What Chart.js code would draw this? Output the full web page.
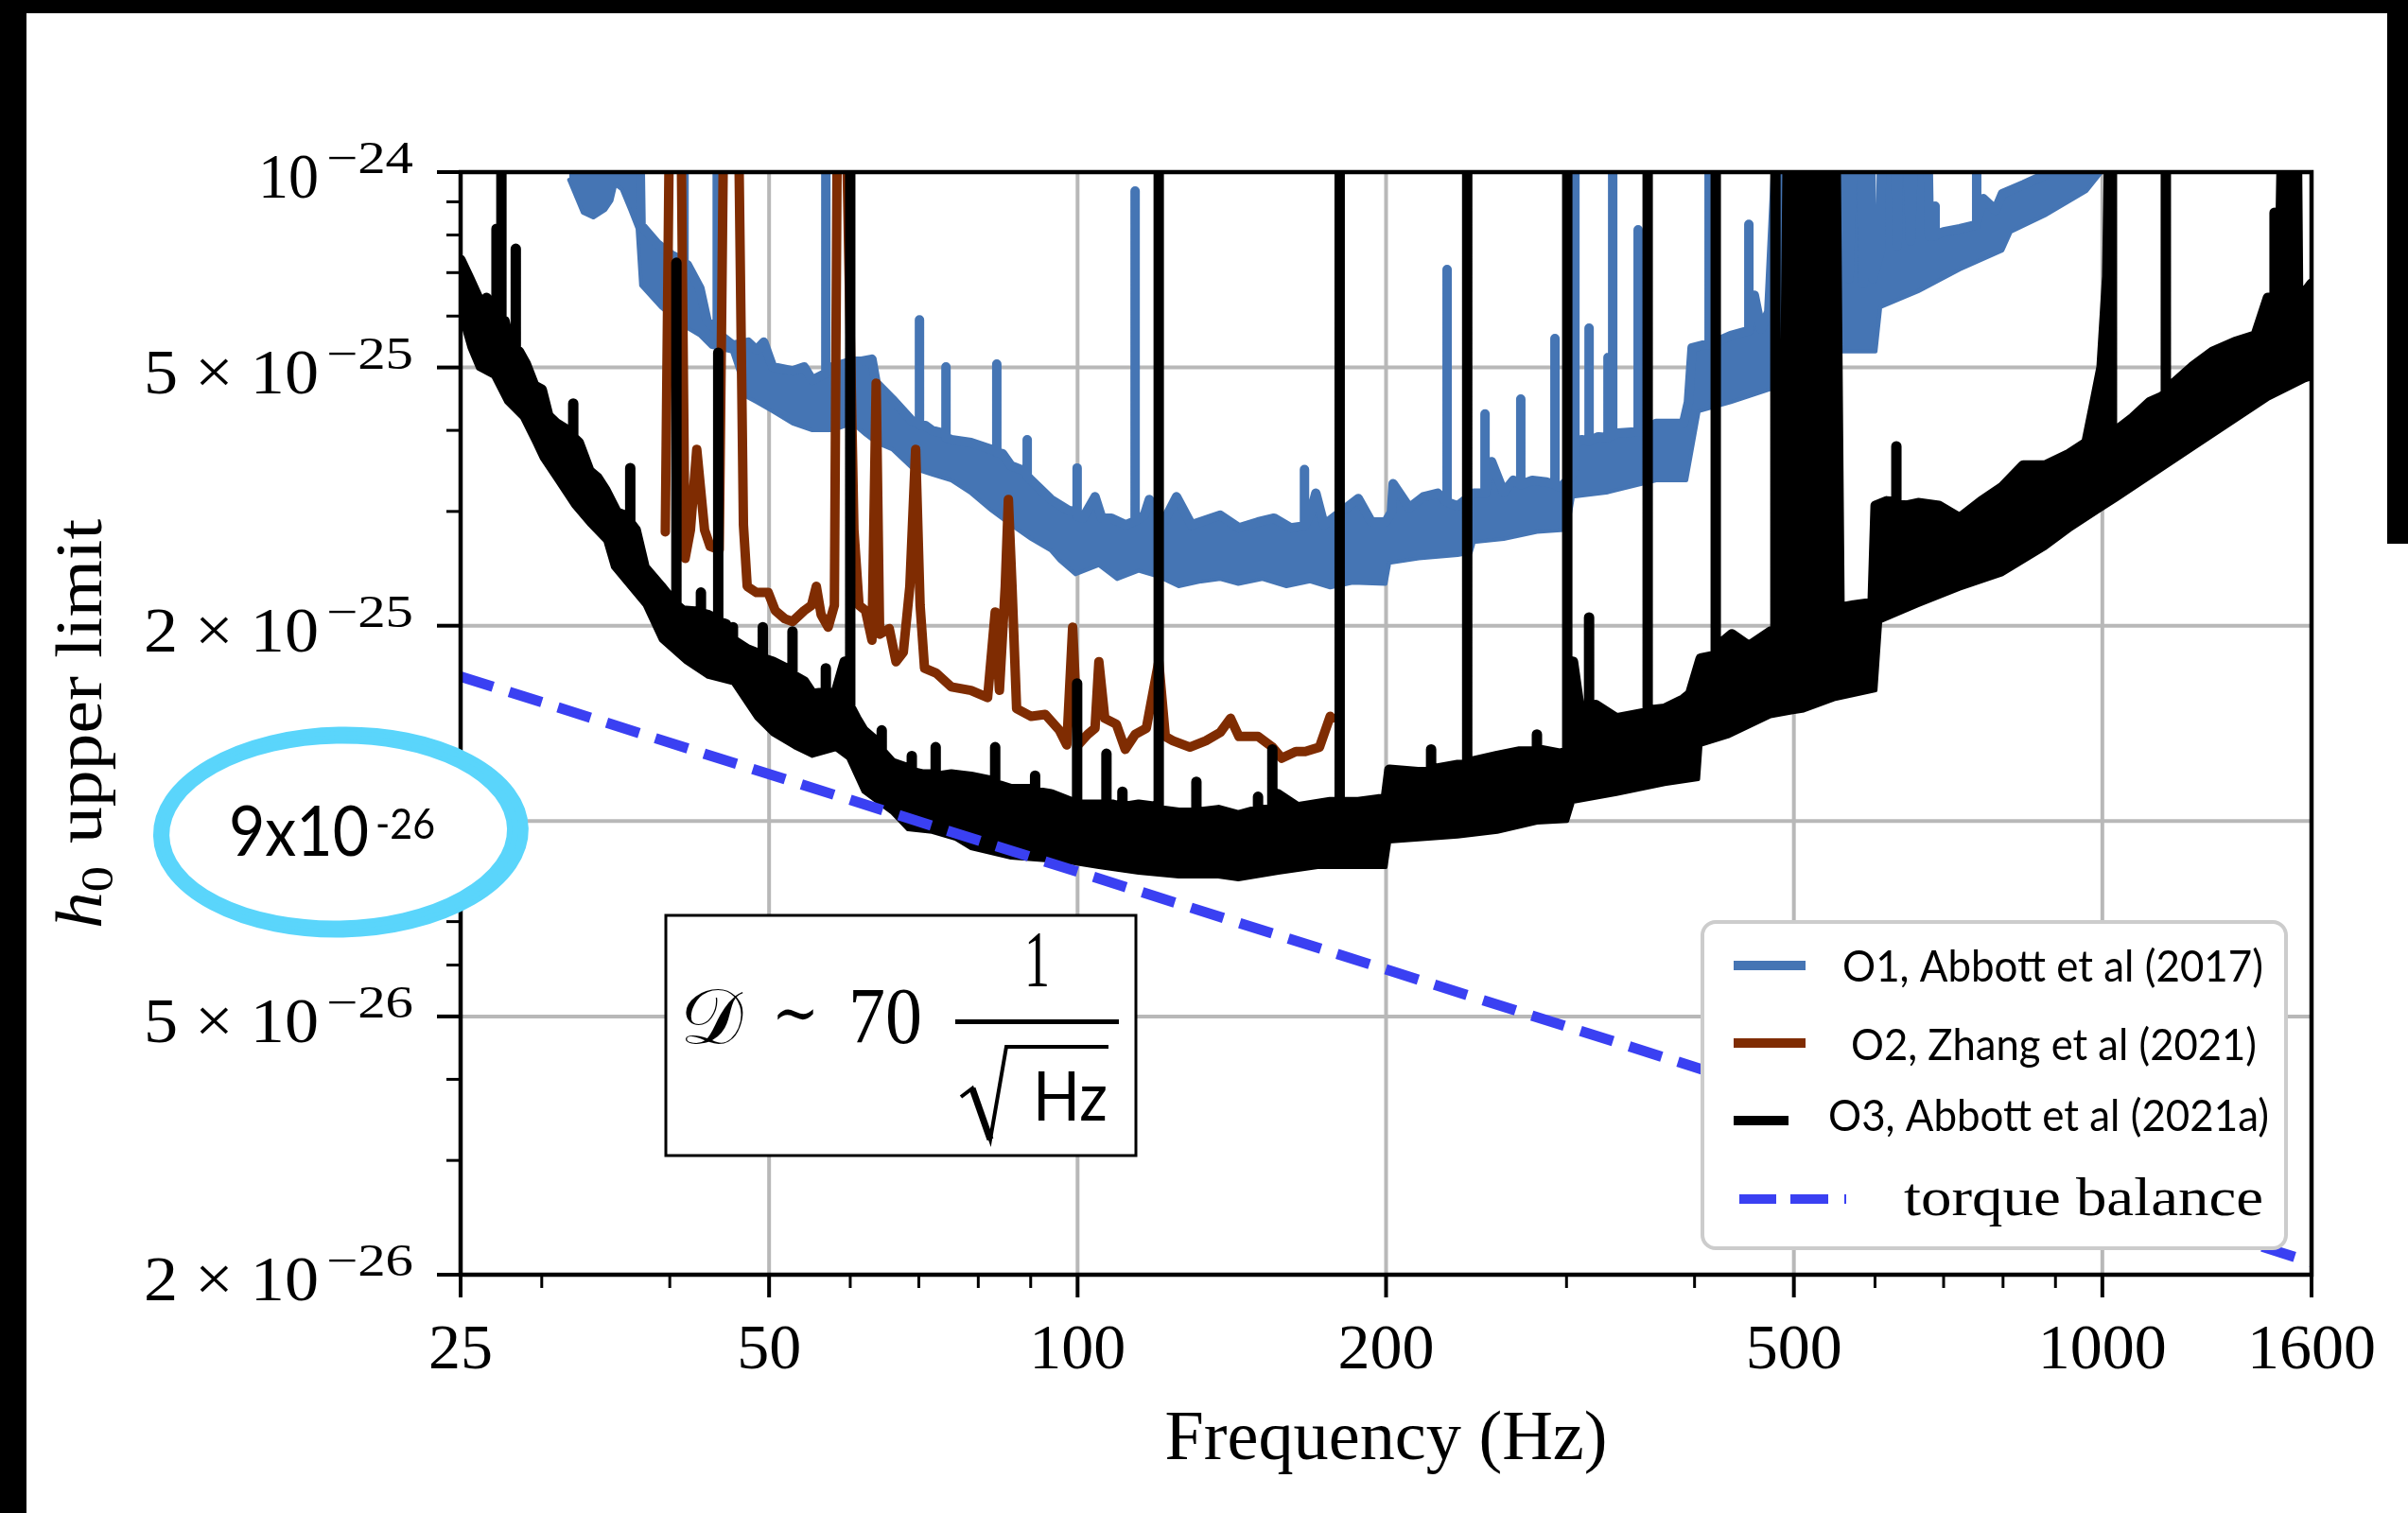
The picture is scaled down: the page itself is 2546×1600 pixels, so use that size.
<!DOCTYPE html>
<html><head><meta charset="utf-8">
<script src="https://cdn.jsdelivr.net/npm/chart.js@4.4.1/dist/chart.umd.min.js"></script>
<style>html,body{margin:0;padding:0;background:#fff;}canvas{display:block;}</style>
</head><body>
<canvas id="c" width="2546" height="1600" style="width:2546px;height:1600px"></canvas>
<script>
// ---------- DATA (frequency in Hz, h0 upper limit) ----------
const xMajorTicks = [25, 50, 100, 200, 500, 1000, 1600];
const xTickLabels = ['25', '50', '100', '200', '500', '1000', '1600'];
const xMinorTicks = [30, 40, 60, 70, 80, 90, 300, 400, 600, 700, 800, 900];
const xGridValues = [50, 100, 200, 500, 1000];
const yMajorTicks = [1e-24, 5e-25, 2e-25, 1e-25, 5e-26, 2e-26];
const yTickMantissa = ['', '5', '2', '', '5', '2'];
const yTickExponent = ['−24', '−25', '−25', '−25', '−26', '−26'];
const yMinorTicks = [3e-26, 4e-26, 6e-26, 7e-26, 8e-26, 9e-26, 3e-25, 4e-25, 6e-25, 7e-25, 8e-25, 9e-25];
const yGridValues = [5e-26, 1e-25, 2e-25, 5e-25];

// O1 (Abbott et al 2017): upper and lower edge of the band
const o1Upper = [
[31.9,2e-24],[37.2,2e-24],[37.5,8.29e-25],[38.9,7.75e-25],[40.2,7.44e-25],
[41.3,7.3e-25],[41.3,2e-24],[41.3,7.25e-25],
[41.6,7.20e-25],[42.8,6.62e-25],[43.5,5.89e-25],
[44.5,5.7e-25],[44.5,2e-24],[44.5,5.6e-25],
[44.85,5.60e-25],[46.1,5.41e-25],[47.7,5.47e-25],[48.6,5.32e-25],[49.4,5.47e-25],[50.4,5.01e-25],[52.7,4.94e-25],[54.1,5.01e-25],[55.1,4.78e-25],
[56.8,4.9e-25],[56.8,2e-24],[56.8,4.95e-25],
[57.6,5.01e-25],[60.3,5.11e-25],[61.4,5.11e-25],[63.0,5.15e-25],[63.6,4.73e-25],[65.9,4.47e-25],[68.9,4.14e-25],
[70.1,4.1e-25],[70.1,5.92e-25],[70.1,4.08e-25],
[71.0,4.07e-25],[72.1,4.00e-25],
[74.4,3.95e-25],[74.4,5.01e-25],[74.4,3.9e-25],
[75.3,3.87e-25],[78.7,3.83e-25],[82.4,3.74e-25],
[83.4,3.72e-25],[83.4,5.06e-25],[83.4,3.7e-25],
[84.5,3.68e-25],[86.1,3.53e-25],
[89.3,3.45e-25],[89.3,3.87e-25],[89.3,3.4e-25],
[90.1,3.35e-25],[94.2,3.13e-25],[98.0,3.01e-25],
[99.9,3.0e-25],[99.9,3.50e-25],[99.9,2.95e-25],
[101.2,2.93e-25],[104.0,3.16e-25],[105.6,2.93e-25],[107.9,2.93e-25],[111.4,2.86e-25],
[113.8,2.9e-25],[113.8,9.35e-25],[113.8,2.9e-25],
[116.2,2.96e-25],[117.5,3.13e-25],[121.3,2.89e-25],[124.9,3.16e-25],[129.2,2.86e-25],[137.8,2.96e-25],[143.7,2.83e-25],[150.0,2.89e-25],[155.5,2.93e-25],[161.5,2.83e-25],
[166.5,2.85e-25],[166.5,3.48e-25],[166.5,2.85e-25],
[168.6,2.96e-25],[170.8,3.20e-25],[174.0,2.86e-25],[187.9,3.14e-25],[193.5,2.89e-25],[199.8,2.89e-25],[202.4,2.99e-25],[203.2,3.31e-25],[210.7,3.04e-25],[217.5,3.16e-25],[224.6,3.20e-25],
[229.4,3.1e-25],[229.4,7.08e-25],[229.4,3.1e-25],
[234.9,3.06e-25],[243.6,3.20e-25],
[249.8,3.2e-25],[249.8,4.24e-25],[249.8,3.2e-25],
[253.5,3.58e-25],[260.5,3.21e-25],[266.2,3.35e-25],
[270.7,3.3e-25],[270.7,4.47e-25],[270.7,3.3e-25],
[277.8,3.35e-25],[286.8,3.33e-25],
[292.3,3.3e-25],[292.3,5.54e-25],[292.3,3.3e-25],
[296.0,3.27e-25],[302.5,3.38e-25],
[305.7,3.5e-25],[305.7,2e-24],[305.7,3.8e-25],
[310.3,3.87e-25],
[315.6,3.85e-25],[315.6,5.75e-25],[315.6,3.85e-25],
[322.3,3.91e-25],
[329.3,3.9e-25],[329.3,5.18e-25],[329.3,3.92e-25],
[332.8,3.93e-25],[332.8,2e-24],[332.8,3.95e-25],
[336.3,3.96e-25],
[352.4,3.98e-25],[352.4,8.15e-25],[352.4,3.98e-25],
[358.3,4.00e-25],[366.9,4.10e-25],[390.2,4.10e-25],[394.5,4.42e-25],[397.8,5.36e-25],[407,5.41e-25],
[413.3,5.42e-25],[413.3,2e-24],[413.3,5.44e-25],
[419.5,5.47e-25],[434,5.60e-25],
[451.9,5.7e-25],[451.9,8.31e-25],[451.9,5.7e-25],
[457.5,6.46e-25],[464.5,5.73e-25],[472.6,6.09e-25],[490,2e-24],[547.3,2e-24],[550.5,6.85e-25],[554,2e-24],[559.7,2e-24],[565.8,6.85e-25],[578,2e-24],[584.3,6.73e-25],[590,2e-24],[597,6.85e-25],[607.2,7.57e-25],[612.3,2e-24],[624,2e-24],[630.7,7.70e-25],[636,2e-24],[649.8,7.83e-25],[663.8,2e-24],[671.5,2e-24],[678,7.96e-25],
[686.8,7.98e-25],[686.8,8.86e-25],[686.8,8.0e-25],
[700,8.09e-25],[725.9,8.18e-25],
[754,8.3e-25],[754,2e-24],[754,8.4e-25],
[765.4,9.10e-25],[786.7,8.74e-25],[798.8,9.26e-25],[838.6,9.57e-25],[878.7,9.90e-25],[903.6,1.04e-24],[1037,1.11e-24]
];
const o1Lower = [
[31.9,9.73e-25],[32.9,8.66e-25],[33.7,8.51e-25],[34.6,8.74e-25],[35.1,9.04e-25],[35.4,9.57e-25],[35.9,9.41e-25],[36.6,8.74e-25],[37.2,8.18e-25],[37.5,6.69e-25],[39.2,6.19e-25],[41.3,5.79e-25],[42.8,5.60e-25],[43.9,5.38e-25],[46.0,5.29e-25],[47.6,4.50e-25],[48.6,4.42e-25],[50.4,4.28e-25],[52.7,4.10e-25],[55.1,4.00e-25],[57.6,4.00e-25],[60.3,4.10e-25],[62.1,3.94e-25],[63.6,3.83e-25],[65.9,3.74e-25],[68.9,3.50e-25],[72.1,3.42e-25],[75.3,3.35e-25],[78.7,3.20e-25],[82.4,3.01e-25],[86.1,2.86e-25],[90.1,2.72e-25],[94.2,2.61e-25],[96.0,2.52e-25],[99.5,2.40e-25],[104.9,2.48e-25],[109.3,2.36e-25],[114.7,2.43e-25],[120.0,2.38e-25],[125.5,2.30e-25],[132.0,2.34e-25],[137.8,2.36e-25],[143.5,2.32e-25],[151.5,2.36e-25],[159.9,2.30e-25],[168.6,2.34e-25],[176.4,2.29e-25],[185.5,2.33e-25],[199.8,2.32e-25],[201.5,2.50e-25],[215.3,2.54e-25],[234.9,2.57e-25],[241.9,2.59e-25],[243.6,2.69e-25],[260.5,2.72e-25],[280.7,2.79e-25],[300.5,2.81e-25],[304.4,3.16e-25],[329.3,3.21e-25],[366.9,3.35e-25],[392.7,3.35e-25],[403.8,4.28e-25],[434,4.42e-25],[472.6,4.62e-25],[547.3,5.29e-25],[600.8,5.29e-25],[607.2,6.19e-25],[661,6.55e-25],[725.9,7.08e-25],[798.8,7.57e-25],[814,8.09e-25],[878.7,8.57e-25],[964.9,9.35e-25],[998.3,1.00e-24],[1037,1.04e-24]
];

// O2 (Zhang et al 2021)
const o2Line = [
[39.6,2.79e-25],[40.1,2e-24],[40.9,2e-24],[41.4,2.54e-25],[41.9,2.81e-25],[42.5,3.74e-25],[43.25,2.81e-25],[43.8,2.65e-25],[44.7,2.62e-25],[45.3,2e-24],[46.5,2e-24],[47.2,2.86e-25],[47.6,2.30e-25],[48.6,2.25e-25],[49.9,2.25e-25],[50.7,2.11e-25],[51.8,2.05e-25],[52.7,2.03e-25],[54.1,2.11e-25],[55.0,2.15e-25],[55.6,2.30e-25],[56.2,2.08e-25],[57.1,1.99e-25],[57.9,2.15e-25],[58.4,2e-24],[59.1,2e-24],[60.5,2.81e-25],[61.2,2.15e-25],[62.1,2.11e-25],[63.0,1.90e-25],[63.6,4.73e-25],[64.1,1.94e-25],[65.5,1.98e-25],[66.5,1.76e-25],[67.6,1.82e-25],[68.6,2.30e-25],[69.5,3.74e-25],[70.2,2.15e-25],[70.9,1.72e-25],[72.8,1.69e-25],[75.3,1.61e-25],[78.7,1.59e-25],[81.7,1.55e-25],[83.1,2.10e-25],[83.9,1.59e-25],[85.0,2.30e-25],[85.6,3.13e-25],[86.3,2.30e-25],[87.2,1.49e-25],[90.1,1.45e-25],[93.0,1.46e-25],[96.0,1.38e-25],[97.6,1.31e-25],[98.9,1.99e-25],[100.1,1.31e-25],[102.3,1.36e-25],[104.0,1.39e-25],[104.9,1.76e-25],[106.3,1.44e-25],[109.1,1.41e-25],[111.3,1.29e-25],[113.8,1.36e-25],[116.7,1.39e-25],[120.0,1.76e-25],[121.8,1.35e-25],[123.9,1.33e-25],[128.7,1.30e-25],[133.4,1.33e-25],[137.8,1.37e-25],[141.0,1.44e-25],[143.7,1.35e-25],[150.0,1.35e-25],[154.9,1.30e-25],[158.2,1.25e-25],[163.3,1.28e-25],[166.8,1.28e-25],[172.2,1.30e-25],[176.4,1.45e-25],[177.1,1.44e-25]
];

// O3 (Abbott et al 2021a): upper and lower edge of the band
const o3Upper = [
[25.0,7.32e-25],[25.5,6.85e-25],[26.0,6.40e-25],[26.2,5.98e-25],[26.5,6.40e-25],[26.7,5.79e-25],[26.9,6.25e-25],
[27.1,6.1e-25],[27.1,8.18e-25],[27.1,6.0e-25],
[27.2,5.98e-25],
[27.4,5.9e-25],[27.4,2e-24],[27.4,5.9e-25],
[27.6,5.89e-25],[27.9,5.41e-25],
[28.3,5.3e-25],[28.3,7.62e-25],[28.3,5.3e-25],
[28.5,5.29e-25],[28.95,5.06e-25],[29.5,4.69e-25],[30.0,4.62e-25],[30.45,4.21e-25],[31.0,4.10e-25],[31.8,4.00e-25],
[32.2,3.95e-25],[32.2,4.4e-25],[32.2,3.9e-25],
[32.6,3.83e-25],[33.4,3.46e-25],[34.0,3.38e-25],[34.6,3.24e-25],[35.5,2.99e-25],[36.1,2.96e-25],
[36.6,2.9e-25],[36.6,3.50e-25],[36.6,2.88e-25],
[37.05,2.81e-25],[37.8,2.46e-25],[39.2,2.30e-25],[40.2,2.19e-25],
[40.6,2.15e-25],[40.6,7.25e-25],[40.6,2.15e-25],
[41.2,2.11e-25],
[42.9,2.1e-25],[42.9,2.25e-25],[42.9,2.09e-25],
[43.5,2.08e-25],
[44.6,2.04e-25],[44.6,5.27e-25],[44.6,2.03e-25],
[45.4,2.01e-25],[46.1,1.92e-25],[46.1,1.99e-25],[46.1,1.9e-25],[47.6,1.84e-25],
[49.3,1.8e-25],[49.3,1.99e-25],[49.3,1.78e-25],
[50.4,1.76e-25],
[52.7,1.7e-25],[52.7,1.96e-25],[52.7,1.68e-25],
[54.1,1.64e-25],[55.1,1.57e-25],
[56.8,1.58e-25],[56.8,1.72e-25],[56.8,1.57e-25],
[58.1,1.58e-25],[59.25,1.76e-25],
[60.0,1.7e-25],[60.0,2e-24],[60.0,1.5e-25],
[60.8,1.44e-25],[61.8,1.38e-25],[63.5,1.33e-25],
[64.4,1.3e-25],[64.4,1.38e-25],[64.4,1.28e-25],
[65.9,1.23e-25],[68.9,1.2e-25],[68.9,1.26e-25],[68.9,1.19e-25],[70.5,1.18e-25],
[72.7,1.18e-25],[72.7,1.30e-25],[72.7,1.17e-25],
[75.3,1.18e-25],[78.7,1.17e-25],
[83.1,1.15e-25],[83.1,1.30e-25],[83.1,1.14e-25],
[86.1,1.12e-25],[90.9,1.12e-25],[90.9,1.175e-25],[90.9,1.11e-25],[94.2,1.10e-25],[98.5,1.07e-25],
[99.9,1.07e-25],[99.9,1.63e-25],[99.9,1.06e-25],
[101.2,1.06e-25],
[106.7,1.06e-25],[106.7,1.27e-25],[106.7,1.06e-25],
[108.1,1.06e-25],[110.6,1.05e-25],[110.6,1.11e-25],[110.6,1.05e-25],[114.7,1.06e-25],
[120.0,1.05e-25],[120.0,2e-24],[120.0,1.04e-25],
[125.5,1.03e-25],
[130.6,1.03e-25],[130.6,1.15e-25],[130.6,1.03e-25],
[137.2,1.04e-25],[143.5,1.02e-25],[150.0,1.04e-25],[150.0,1.09e-25],[150.0,1.04e-25],
[154.9,1.04e-25],[154.9,1.29e-25],[154.9,1.05e-25],
[156.8,1.1e-25],[164.0,1.05e-25],[176.4,1.07e-25],
[180.2,1.07e-25],[180.2,2e-24],[180.2,1.07e-25],
[187.9,1.07e-25],[196.4,1.08e-25],[199.8,1.08e-25],[201.5,1.2e-25],[214.8,1.19e-25],
[221.3,1.19e-25],[221.3,1.29e-25],[221.3,1.2e-25],
[234.9,1.22e-25],
[240.0,1.22e-25],[240.0,2e-24],[240.0,1.23e-25],
[256.8,1.26e-25],[270,1.28e-25],[280.7,1.28e-25],[280.7,1.36e-25],[280.7,1.29e-25],[296.0,1.27e-25],
[300.5,1.28e-25],[300.5,2e-24],[300.5,1.6e-25],
[304.4,1.76e-25],[309,1.49e-25],
[315.6,1.5e-25],[315.6,2.06e-25],[315.6,1.5e-25],
[320.2,1.51e-25],[335.6,1.44e-25],
[360.0,1.47e-25],[360.0,2e-24],[360.0,1.48e-25],
[374.0,1.49e-25],[390.2,1.54e-25],[396.1,1.57e-25],[405.5,1.78e-25],
[419.5,1.8e-25],[419.5,2e-24],[419.5,1.85e-25],
[435.0,1.94e-25],[451.9,1.86e-25],[474.6,1.96e-25],
[479.7,1.96e-25],[479.7,2e-24],[479.7,1.97e-25],
[487.8,1.99e-25],[495.2,2e-24],[517.8,2e-24],[519.9,4.50e-25],[523.2,2e-24],[547.3,2e-24],
[554,2.13e-25],[572,2.15e-25],[596.8,2.17e-25],[600.8,3.06e-25],[616,3.11e-25],
[629.5,3.1e-25],[629.5,3.78e-25],[629.5,3.08e-25],
[643,3.06e-25],[661.0,3.09e-25],[692.7,3.06e-25],[725.9,2.93e-25],[762,3.11e-25],[798.8,3.27e-25],[836.9,3.53e-25],[878.7,3.53e-25],[928.7,3.68e-25],[964.9,3.83e-25],[985,4.50e-25],[998.3,5.01e-25],[1011,6.91e-25],
[1021.8,2e-24],[1021.8,4.0e-25],
[1032.8,4.00e-25],[1070.6,4.18e-25],[1112.5,4.42e-25],[1141,4.50e-25],
[1153.3,4.55e-25],[1153.3,2e-24],[1153.3,4.6e-25],
[1168.2,4.69e-25],[1224.0,5.01e-25],[1282.5,5.29e-25],[1346.6,5.47e-25],[1411.0,5.60e-25],[1450.6,6.40e-25],
[1472.5,6.4e-25],[1472.5,8.66e-25],[1472.5,6.5e-25],
[1489,6.73e-25],[1507.3,2e-24],[1543.2,2e-24],[1553.0,6.04e-25],[1579.6,6.55e-25],[1600,6.73e-25]
];
const o3Lower = [
[25.0,5.98e-25],[25.5,5.36e-25],[26.0,4.98e-25],[26.9,4.84e-25],[27.7,4.42e-25],[28.7,4.18e-25],[29.5,3.83e-25],[30.0,3.62e-25],[31.0,3.35e-25],[32.2,3.06e-25],[33.4,2.86e-25],[34.6,2.70e-25],[35.2,2.46e-25],[37.8,2.15e-25],[39.2,1.90e-25],[41.4,1.76e-25],[43.5,1.67e-25],[46.1,1.63e-25],[48.6,1.44e-25],[50.4,1.36e-25],[52.9,1.30e-25],[55.1,1.26e-25],[58.1,1.29e-25],[59.7,1.25e-25],[61.8,1.11e-25],[65.9,1.03e-25],[68.3,9.71e-26],[72.1,9.62e-26],[76.0,9.39e-26],[78.7,9.08e-26],[86.1,8.78e-26],[94.2,8.69e-26],[99.5,8.61e-26],[104.9,8.49e-26],[114.7,8.32e-26],[125.5,8.21e-26],[137.2,8.21e-26],[143.5,8.13e-26],[157,8.32e-26],[171.5,8.49e-26],[189.5,8.49e-26],[199.8,8.49e-26],[201.5,9.30e-26],[234.9,9.46e-26],[256.8,9.62e-26],[280.7,9.94e-26],[300.5,1.00e-25],[304.4,1.07e-25],[335.6,1.10e-25],[374.0,1.14e-25],[403.3,1.16e-25],[405.5,1.31e-25],[431.3,1.35e-25],[474.6,1.45e-25],[497.3,1.47e-25],[511.3,1.48e-25],[547.3,1.54e-25],[600.8,1.59e-25],[607.2,2.03e-25],[661.0,2.15e-25],[725.9,2.28e-25],[798.8,2.40e-25],[878.7,2.63e-25],[930,2.81e-25],[994.0,3.01e-25],[1032.8,3.13e-25],[1224.0,3.74e-25],[1450.6,4.47e-25],[1579.6,4.78e-25],[1600,4.81e-25]
];

// torque balance: h0 ~ f^-1/2
const torqueBalance = [[25, 1.67e-25], [1600, 2.09e-26]];

// ---------- STYLE ----------
const C_O1 = '#4575b4', C_O2 = '#7f2c02', C_O3 = '#000000', C_TQ = '#3a40f2';
const GRID = '#b8b8b8';
const SERIF = '"Liberation Serif", "Times New Roman", serif';
const SANS = 'Lato, "Open Sans", sans-serif';

const toXY = a => a.map(p => ({x: p[0], y: p[1]}));

function fitText(ctx, text, x, y, width, size, font, align, baseline) {
  ctx.save();
  ctx.font = size + 'px ' + font;
  ctx.textBaseline = baseline || 'alphabetic';
  const w = ctx.measureText(text).width;
  const s = width / w;
  ctx.translate(x, y);
  ctx.scale(s, 1);
  ctx.textAlign = 'left';
  const x0 = align === 'center' ? -w / 2 : (align === 'right' ? -w : 0);
  ctx.fillText(text, x0, 0);
  ctx.restore();
}

const decor = {
  id: 'decor',
  beforeDraw(chart) {
    const c = chart.ctx;
    c.save(); c.fillStyle = '#fff'; c.fillRect(0, 0, chart.width, chart.height); c.restore();
  },
  beforeDatasetsDraw(chart) {
    const c = chart.ctx, a = chart.chartArea, xs = chart.scales.x, ys = chart.scales.y;
    c.save();
    c.strokeStyle = GRID; c.lineWidth = 4;
    xGridValues.forEach(v => { const p = xs.getPixelForValue(v); c.beginPath(); c.moveTo(p, a.top); c.lineTo(p, a.bottom); c.stroke(); });
    yGridValues.forEach(v => { const p = ys.getPixelForValue(v); c.beginPath(); c.moveTo(a.left, p); c.lineTo(a.right, p); c.stroke(); });
    c.restore();
  },
  afterDatasetsDraw(chart) {
    const c = chart.ctx, a = chart.chartArea, xs = chart.scales.x, ys = chart.scales.y;
    c.save();
    c.strokeStyle = '#000'; c.lineWidth = 4.5;
    c.strokeRect(a.left, a.top, a.right - a.left, a.bottom - a.top);
    c.lineWidth = 4;
    yMajorTicks.forEach(v => { const p = ys.getPixelForValue(v); c.beginPath(); c.moveTo(a.left - 25, p); c.lineTo(a.left, p); c.stroke(); });
    xMajorTicks.forEach(v => { const p = xs.getPixelForValue(v); c.beginPath(); c.moveTo(p, a.bottom); c.lineTo(p, a.bottom + 24); c.stroke(); });
    c.lineWidth = 3;
    yMinorTicks.forEach(v => { const p = ys.getPixelForValue(v); c.beginPath(); c.moveTo(a.left - 15, p); c.lineTo(a.left, p); c.stroke(); });
    xMinorTicks.forEach(v => { const p = xs.getPixelForValue(v); c.beginPath(); c.moveTo(p, a.bottom); c.lineTo(p, a.bottom + 14); c.stroke(); });
    c.fillStyle = '#000';
    c.font = '68px ' + SERIF; c.textAlign = 'center'; c.textBaseline = 'alphabetic';
    xMajorTicks.forEach((v, i) => c.fillText(xTickLabels[i], xs.getPixelForValue(v), a.bottom + 99));
    yMajorTicks.forEach((v, i) => {
      const p = ys.getPixelForValue(v);
      fitText(c, yTickExponent[i], 437, p + 1, 92, 48, SERIF, 'right');
      if (yTickMantissa[i]) fitText(c, yTickMantissa[i] + ' × 10', 337, p + 27, 185, 68, SERIF, 'right');
      else fitText(c, '10', 337, p + 27, 64, 68, SERIF, 'right');
    });
    fitText(c, 'Frequency (Hz)', (a.left + a.right) / 2, 1543, 468, 74, SERIF, 'center');
    c.save();
    c.translate(107, 982); c.rotate(-Math.PI / 2);
    const fs = 70;
    c.font = 'italic ' + fs + 'px ' + SERIF; const wh = c.measureText('h').width;
    c.font = (fs * 0.7) + 'px ' + SERIF; const w0 = c.measureText('0').width;
    c.font = fs + 'px ' + SERIF; const wr = c.measureText(' upper limit').width;
    const sc = 433 / (wh + w0 + wr + 4);
    c.scale(sc, 1);
    c.textAlign = 'left';
    c.font = 'italic ' + fs + 'px ' + SERIF; c.fillText('h', 0, 0);
    c.font = (fs * 0.7) + 'px ' + SERIF; c.fillText('0', wh, 12);
    c.font = fs + 'px ' + SERIF; c.fillText(' upper limit', wh + w0 + 4, 0);
    c.restore();
    c.restore();
  },
  afterDraw(chart) {
    const c = chart.ctx;
    c.save();
    // legend
    c.beginPath(); c.roundRect(1800, 975, 617, 345, 14);
    c.fillStyle = '#fff'; c.fill(); c.strokeStyle = '#cccccc'; c.lineWidth = 4; c.stroke();
    c.lineCap = 'butt';
    c.lineWidth = 10;
    c.strokeStyle = C_O1; c.beginPath(); c.moveTo(1833, 1021); c.lineTo(1909, 1021); c.stroke();
    c.strokeStyle = C_O2; c.beginPath(); c.moveTo(1833, 1103); c.lineTo(1909, 1103); c.stroke();
    c.strokeStyle = C_O3; c.beginPath(); c.moveTo(1833, 1185); c.lineTo(1891, 1185); c.stroke();
    c.strokeStyle = C_TQ;
    [[1839, 1878], [1893, 1933], [1950, 1952]].forEach(s => { c.beginPath(); c.moveTo(s[0], 1268); c.lineTo(s[1], 1268); c.stroke(); });
    c.fillStyle = '#000';
    fitText(c, 'O1, Abbott et al (2017)', 1948, 1038, 445, 46, SANS, 'left');
    fitText(c, 'O2, Zhang et al (2021)', 1957, 1121, 429, 46, SANS, 'left');
    fitText(c, 'O3, Abbott et al (2021a)', 1933, 1196, 466, 46, SANS, 'left');
    fitText(c, 'torque balance', 2013, 1285, 380, 56, SERIF, 'left');

    // formula box
    c.fillStyle = '#fff'; c.fillRect(704, 968, 497, 254);
    c.strokeStyle = '#000'; c.lineWidth = 3; c.strokeRect(704, 968, 497, 254);
    c.fillStyle = '#000';
    fitText(c, '𝒟', 719, 1103, 66, 82, '"DejaVu Serif", "DejaVu Sans", serif', 'left');
    fitText(c, '∼', 841, 1077, 50, 70, '"DejaVu Serif", serif', 'center', 'middle');
    fitText(c, '70', 897, 1103, 78, 84, SERIF, 'left');
    c.fillRect(1010, 1078, 173, 5);
    fitText(c, '1', 1083, 1043, 27, 84, SERIF, 'left');
    c.lineWidth = 4; c.lineJoin = 'miter';
    c.beginPath(); c.moveTo(1016, 1160); c.lineTo(1028, 1151); c.lineTo(1047, 1205); c.lineTo(1064, 1107); c.lineTo(1172, 1107); c.stroke();
    c.beginPath(); c.moveTo(1028, 1151); c.lineTo(1047, 1205); c.lineWidth = 7; c.stroke();
    fitText(c, 'Hz', 1092, 1185, 79, 72, SANS, 'left');

    // annotation ellipse
    const cx = 359, cy = 880;
    c.fillStyle = '#fff';
    c.beginPath(); c.ellipse(cx, cy, 190, 104, -0.02, 0, Math.PI * 2); c.fill();
    c.strokeStyle = '#5ad5fb';
    [[-7, -6, 7], [-2, -1, 8], [3, 3, 7], [7, 6, 5]].forEach(r => {
      c.lineWidth = r[2];
      c.beginPath(); c.ellipse(cx + r[0] * 0.2, cy, 189 + r[0], 103 + r[1], -0.02, 0, Math.PI * 2); c.stroke();
    });
    c.fillStyle = '#000';
    fitText(c, '9x10', 242, 905, 148, 74, SANS, 'left');
    fitText(c, '-26', 397, 887, 63, 44, SANS, 'left');

    // black frame of the screenshot
    c.fillStyle = '#000';
    c.fillRect(0, 0, 2546, 14);
    c.fillRect(0, 0, 28, 1600);
    c.fillRect(2524, 0, 22, 575);
    c.restore();
  }
};

const ctx = document.getElementById('c').getContext('2d');
new Chart(ctx, {
  type: 'line',
  data: {
    datasets: [
      {label: 'torque balance', data: toXY(torqueBalance), borderColor: C_TQ, borderWidth: 11, borderDash: [36, 18], borderCapStyle: 'butt', fill: false, order: 10},
      {label: 'O1 lower', data: toXY(o1Lower), borderColor: C_O1, backgroundColor: C_O1, borderWidth: 4, fill: false, order: 40},
      {label: 'O1, Abbott et al (2017)', data: toXY(o1Upper), borderColor: C_O1, backgroundColor: C_O1, borderWidth: 10, fill: '-1', order: 40},
      {label: 'O2, Zhang et al (2021)', data: toXY(o2Line), borderColor: C_O2, borderWidth: 10, fill: false, order: 30},
      {label: 'O3 lower', data: toXY(o3Lower), borderColor: C_O3, backgroundColor: C_O3, borderWidth: 4, fill: false, order: 20},
      {label: 'O3, Abbott et al (2021a)', data: toXY(o3Upper), borderColor: C_O3, backgroundColor: C_O3, borderWidth: 11, fill: '-1', order: 20}
    ]
  },
  options: {
    responsive: false, animation: false, devicePixelRatio: 1,
    layout: {padding: {left: 487, right: 102, top: 182, bottom: 252}},
    elements: {point: {radius: 0, hoverRadius: 0}, line: {tension: 0, borderJoinStyle: 'round', borderCapStyle: 'round'}},
    scales: {
      x: {type: 'logarithmic', min: 25, max: 1600, display: false},
      y: {type: 'logarithmic', min: 2e-26, max: 1e-24, display: false}
    },
    plugins: {legend: {display: false}, tooltip: {enabled: false}}
  },
  plugins: [decor]
});
</script>
</body></html>
